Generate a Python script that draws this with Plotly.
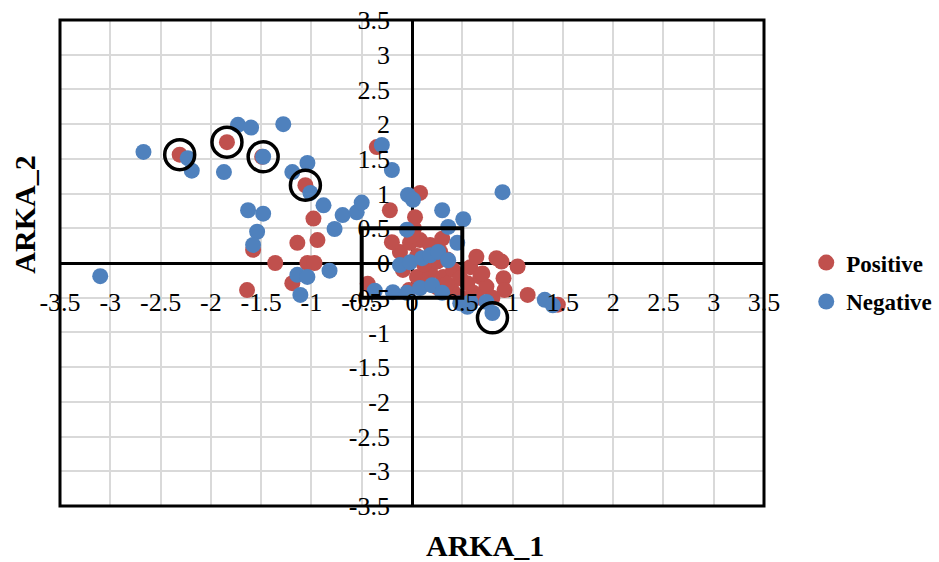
import plotly.graph_objects as go

# ---------------- data ----------------
pos_x = [-2.31, -1.84, -1.49, -1.06, -1.58, -0.98, -1.14, -0.94, -1.36, -1.04,
         -0.97, -1.19, -1.64, -0.35, 0.08, -0.22, 0.03, 0.02, -0.44, -0.03,
         -0.12, -0.02, 0.08, 0.18, 0.28, 0.05, -0.09, 0.05, 0.18, 0.31,
         0.41, 0.48, 0.58, 0.64, 0.55, 0.68, 0.74, 0.61, 0.48, 0.55,
         0.40, 0.25, 0.15, 0.35, 0.84, 0.89, 1.05, 0.91, 0.70, 1.15,
         0.92, 1.45, 0.25, 0.35, 0.12, 0.65, 0.80, -0.20, 0.00, 0.30]
pos_y = [1.56, 1.74, 1.53, 1.12, 0.19, 0.64, 0.29, 0.33, 0.00, 0.00,
         0.00, -0.29, -0.39, 1.67, 1.01, 0.76, 0.66, 0.50, -0.30, -0.39,
         0.16, 0.29, 0.33, 0.26, 0.16, 0.10, -0.10, -0.20, -0.13, -0.20,
         -0.10, -0.22, -0.06, 0.09, -0.29, -0.20, -0.34, -0.43, -0.49, -0.60,
         -0.40, -0.35, -0.30, -0.30, 0.07, 0.02, -0.05, -0.22, -0.15, -0.46,
         -0.39, -0.60, 0.02, 0.05, -0.02, -0.50, -0.50, 0.30, 0.40, 0.35]

neg_x = [-3.10, -2.67, -2.23, -2.19, -1.87, -1.73, -1.60, -1.28, -1.48, -1.04,
         -1.19, -1.01, -0.88, -1.63, -1.48, -1.54, -1.58, -0.69, -0.77, -0.55,
         -0.50, -0.82, -1.14, -1.04, -1.11, -0.30, -0.20, -0.04, 0.01, 0.30,
         0.51, 0.36, -0.05, 0.45, 0.90, -0.12, -0.02, 0.10, 0.18, 0.26,
         0.36, -0.19, -0.05, 0.08, 0.20, 0.30, 0.48, 0.55, 0.58, 0.74,
         0.80, 1.32, 1.40, -0.37]
neg_y = [-0.19, 1.60, 1.51, 1.33, 1.31, 1.99, 1.95, 2.00, 1.53, 1.44,
         1.31, 1.01, 0.83, 0.76, 0.71, 0.45, 0.26, 0.69, 0.49, 0.73,
         0.87, -0.11, -0.17, -0.20, -0.46, 1.70, 1.34, 0.98, 0.91, 0.76,
         0.63, 0.52, 0.48, 0.29, 1.02, -0.03, 0.01, 0.07, 0.11, 0.16,
         0.04, -0.42, -0.43, -0.36, -0.32, -0.43, -0.58, -0.63, -0.56, -0.56,
         -0.72, -0.53, -0.61, -0.40]

# highlighted points (black rings)
ring_x = [-2.31, -1.84, -1.48, -1.06, 0.80]
ring_y = [1.56, 1.74, 1.53, 1.12, -0.79]

# highlighted box bounds
box_lo = [-0.5, -0.5]
box_hi = [0.5, 0.5]

tick_vals = [-3.5, -3, -2.5, -2, -1.5, -1, -0.5, 0, 0.5, 1, 1.5, 2, 2.5, 3, 3.5]
tick_text = ["-3.5", "-3", "-2.5", "-2", "-1.5", "-1", "-0.5", "0",
             "0.5", "1", "1.5", "2", "2.5", "3", "3.5"]

# ---------------- figure ----------------
SERIF = "Liberation Serif"
fig = go.Figure()
fig.add_trace(go.Scatter(x=pos_x, y=pos_y, mode="markers", name="Positive",
                         legendgroup="pos",
                         marker=dict(color="#C0504D", size=16)))
fig.add_trace(go.Scatter(x=neg_x, y=neg_y, mode="markers", name="Negative",
                         legendgroup="neg",
                         marker=dict(color="#4F81BD", size=16)))
fig.add_trace(go.Scatter(x=ring_x, y=ring_y, mode="markers", showlegend=False,
                         hoverinfo="skip",
                         marker=dict(symbol="circle-open", size=30, color="black",
                                     line=dict(color="black", width=3.5))))

axis_common = dict(
    range=[-3.5, 3.5], tickvals=tick_vals, ticktext=tick_text,
    showgrid=True, gridcolor="#d9d9d9", gridwidth=1.5,
    zeroline=True, zerolinecolor="black", zerolinewidth=3,
    showline=False, ticks="", anchor="free", position=0.5,
    tickfont=dict(family=SERIF, size=26, color="black"),
    fixedrange=True,
)
fig.update_xaxes(**axis_common, ticklabelstandoff=21)
fig.update_yaxes(**axis_common, ticklabelstandoff=22)

# highlighted box
fig.add_shape(type="rect", xref="x", yref="y", x0=box_lo[0], y0=box_lo[1],
              x1=box_hi[0], y1=box_hi[1], line=dict(color="black", width=4))
# plot border
fig.add_shape(type="rect", xref="paper", yref="paper", x0=0, y0=0, x1=1, y1=1,
              line=dict(color="black", width=3))

fig.add_annotation(text="ARKA_1", xref="paper", yref="paper", x=0.604, y=-0.082,
                   xanchor="center", yanchor="middle", showarrow=False,
                   font=dict(family=SERIF, size=30, color="black", weight="bold"))
fig.add_annotation(text="ARKA_2", xref="paper", yref="paper", x=-0.05, y=0.599,
                   xanchor="center", yanchor="middle", showarrow=False, textangle=-90,
                   font=dict(family=SERIF, size=30, color="black", weight="bold"))

fig.update_layout(
    width=939, height=562,
    margin=dict(l=60, r=175, t=20, b=56, autoexpand=False),
    paper_bgcolor="white", plot_bgcolor="white",
    legend=dict(x=1.06, y=0.545, xanchor="left", yanchor="top",
                traceorder="grouped", tracegroupgap=6,
                font=dict(family=SERIF, size=23, color="black", weight="bold"),
                bgcolor="rgba(0,0,0,0)"),
)

fig.write_html("out.html")
